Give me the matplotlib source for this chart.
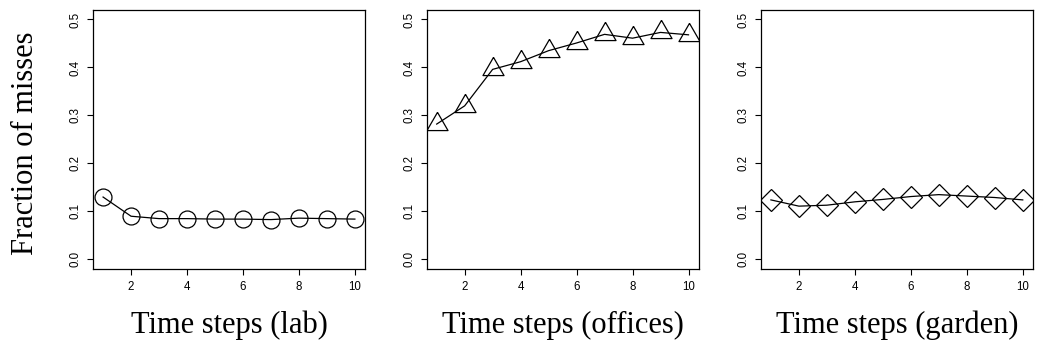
import matplotlib.pyplot as plt
import numpy as np

steps = [1, 2, 3, 4, 5, 6, 7, 8, 9, 10]
lab = [0.130, 0.090, 0.085, 0.085, 0.084, 0.084, 0.083, 0.086, 0.085, 0.084]
offices = [0.282, 0.320, 0.396, 0.412, 0.435, 0.451, 0.469, 0.461, 0.473, 0.468]
garden = [0.124, 0.111, 0.113, 0.120, 0.125, 0.131, 0.135, 0.132, 0.129, 0.124]

# triangle centred on its centroid, like R's pch=2
tri = [(0, 2), (-np.sqrt(3), -1), (np.sqrt(3), -1), (0, 2)]

panels = [
    (lab, "o", 12.2, "Time steps (lab)"),
    (offices, tri, 17.5, "Time steps (offices)"),
    (garden, "D", 10.9, "Time steps (garden)"),
]
lefts = [0.0896, 0.411, 0.733]

fig = plt.figure(figsize=(10.38, 3.46), dpi=100)

for left, (vals, mk, ms, xlab) in zip(lefts, panels):
    ax = fig.add_axes([left, 0.2225, 0.262, 0.749])
    ax.plot(steps, vals, color="black", lw=0.9, marker=mk, ms=ms,
            mfc="none", mec="black", mew=0.9)
    ax.set_xlim(0.64, 10.36)
    ax.set_ylim(-0.02, 0.52)
    ax.set_xticks([2, 4, 6, 8, 10])
    ax.set_yticks([0.0, 0.1, 0.2, 0.3, 0.4, 0.5])
    ax.set_yticklabels(["0.0", "0.1", "0.2", "0.3", "0.4", "0.5"],
                       rotation=90, va="center")
    ax.tick_params(labelsize=8.3, length=4.3, width=0.8, pad=4)
    for lbl in ax.get_xticklabels() + ax.get_yticklabels():
        lbl.set_family("Liberation Sans")
    for sp in ax.spines.values():
        sp.set_linewidth(0.9)
    fig.text(left + 0.131, 0.038, xlab, family="Liberation Serif",
             fontsize=22, ha="center", va="baseline")

fig.text(0.025, 0.585, "Fraction of misses", family="Liberation Serif",
         fontsize=22, rotation=90, ha="center", va="center")

fig.savefig("out.png", dpi=100)
